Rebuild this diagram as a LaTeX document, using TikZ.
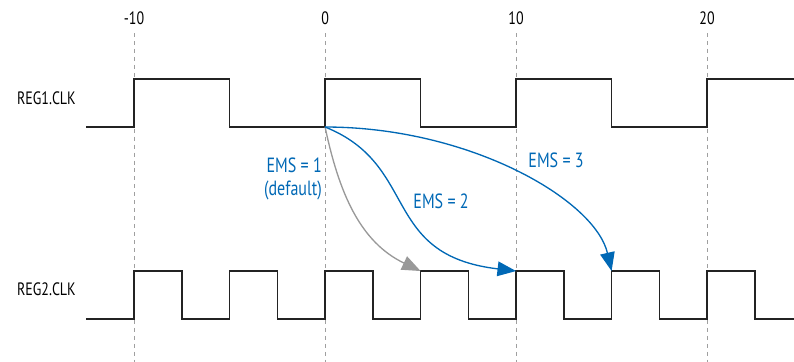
\documentclass[tikz,border=0pt]{standalone}
\usepackage{fontspec}
\setmainfont[FakeStretch=0.78]{PT Sans}
\usepackage{xcolor}
\usetikzlibrary{arrows.meta,positioning,calc}

\definecolor{emsblue}{RGB}{0,104,181}
\definecolor{wavegray}{RGB}{35,35,35}

\begin{document}
\begin{tikzpicture}[
        x=0.5055cm, y=0.5055cm,
        every node/.style={inner sep=0pt},
        grid/.style ={draw=gray!75, dash pattern=on 3pt off 3pt, line width=0.7pt},
        wave/.style ={draw=wavegray, line width=1.1pt},
        tick/.style ={font=\fontsize{13.5}{15}\selectfont},
        sig/.style  ={font=\fontsize{13.5}{15}\selectfont, anchor=east},
        ems/.style  ={font=\fontsize{15.5}{17.25}\selectfont, text=emsblue, align=right},
        flow/.style ={-{Triangle[length=14pt, width=11pt]}, line width=1pt, emsblue},
        dflt/.style ={flow, gray!80},
    ]
        \useasboundingbox (-17.02,0) rectangle (24.55,-18.95);

        % --- Raster ---
        \foreach \t in {-10,0,10,20} {
            \draw[grid] (\t,-1.73) -- (\t,-18.95);
            \node[tick] (t\t) at (\t,-0.94) {\t};
        }

        % --- Takte ---
        \node[sig] (reg1) at (-13.04,-5.13) {REG1.CLK};
        \node[sig] (reg2) at (-13.04,-15.13) {REG2.CLK};

        \draw[wave] (-12.5,-6.65) foreach \t in {-10,0,10} {
            -- (\t,-6.65) -- (\t,-4.14) -- (\t+5,-4.14) -- (\t+5,-6.65) }
            -- (20,-6.65) -- (20,-4.14) -- (24.55,-4.14);
        \draw[wave] (-12.5,-16.70) foreach \t in {-10,-5,...,20} {
            -- (\t,-16.70) -- (\t,-14.19) -- (\t+2.5,-14.19) -- (\t+2.5,-16.70) }
            -- (24.55,-16.70);

        % --- Launch / Latch ---
        \coordinate (src) at (0,-6.65);
        \coordinate (e1) at (5,-14.19);
        \coordinate (e2) at (10,-14.19);
        \coordinate (e3) at (15,-14.19);

        \draw[dflt] (src) .. controls +(0.73,-3.45) and +(-3.17,1.52) .. (e1);
        \draw[flow] (src) .. controls +(4.97,-1.99) and +(-7.12,0.84) .. (e2);
        \draw[flow] (src) .. controls +(7.59,0) and +(-0.86,3.72) .. (e3);

        % --- Beschriftung ---
        \node[ems, anchor=east] (ems1) at (-0.16,-9.35) {EMS = 1\\(default)};
        \node[ems, anchor=west] (ems2) at (4.61,-10.52) {EMS = 2};
        \node[ems, anchor=west] (ems3) at (10.63,-8.38) {EMS = 3};
    \end{tikzpicture}
\end{document}
